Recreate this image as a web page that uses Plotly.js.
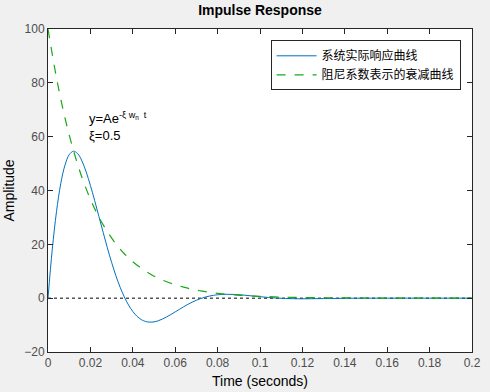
<!DOCTYPE html>
<html><head><meta charset="utf-8">
<script src="https://cdn.plot.ly/plotly-3.0.1.min.js"></script>
<style>html,body{margin:0;padding:0;background:#f0f0f0;}#c{width:490px;height:392px;}</style>
</head><body><div id="c"></div>
<script>
// actual response curve
const tResp = [0,0.002,0.004,0.006,0.008,0.010,0.012,0.014,0.016,0.018,0.020,0.022,0.024,0.026,0.028,0.030,0.032,0.034,0.036,0.038,0.040,0.042,0.044,0.046,0.048,0.050,0.052,0.054,0.056,0.058,0.060,0.062,0.064,0.066,0.068,0.070,0.072,0.074,0.076,0.078,0.080,0.084,0.088,0.092,0.096,0.100,0.104,0.108,0.112,0.116,0.120,0.13,0.14,0.15,0.16,0.18,0.2];
const yResp = [0,18.0,32.1,42.5,49.4,53.3,54.6,53.7,51.0,46.9,41.9,36.3,30.4,24.5,18.7,13.3,8.4,4.1,0.46,-2.56,-4.95,-6.74,-7.96,-8.66,-8.90,-8.80,-8.39,-7.76,-6.95,-6.05,-5.10,-4.14,-3.19,-2.30,-1.49,-0.77,-0.15,0.36,0.75,1.05,1.26,1.44,1.38,1.16,0.85,0.55,0.26,0.04,-0.12,-0.20,-0.23,-0.15,-0.05,0.0,0.0,0.0,0.0];
// damping envelope
const tEnv = [0,0.004,0.008,0.012,0.016,0.020,0.024,0.028,0.032,0.036,0.040,0.044,0.048,0.052,0.056,0.060,0.064,0.068,0.072,0.076,0.080,0.084,0.088,0.092,0.096,0.100,0.11,0.12,0.13,0.14,0.15,0.16,0.18,0.2];
const yEnv = [100,81.9,67.0,54.9,44.9,36.8,30.1,24.7,20.2,16.5,13.5,11.1,9.1,7.4,6.1,5.0,4.1,3.3,2.7,2.2,1.8,1.5,1.2,1.0,0.8,0.7,0.4,0.25,0.15,0.09,0.06,0.03,0.01,0];
const tZero = [0,0.2];
const yZero = [0,0];
const names = ['系统实际响应曲线','阻尼系数表示的衰减曲线'];
const xTicks = [0,0.02,0.04,0.06,0.08,0.1,0.12,0.14,0.16,0.18,0.2];
const xTickText = ['0','0.02','0.04','0.06','0.08','0.1','0.12','0.14','0.16','0.18','0.2'];
const yTicks = [-20,0,20,40,60,80,100];

const axisCommon = {showgrid:false, zeroline:false, showline:true, mirror:'ticks', ticks:'inside', ticklen:5, tickwidth:1,
  linecolor:'#262626', tickcolor:'#262626', linewidth:1, tickfont:{family:'Arial, Liberation Sans', size:12, color:'#4d4d4d'}};

const data = [
  {x:tZero, y:yZero, mode:'lines', line:{color:'#000', width:1, dash:'dot'}, showlegend:false, hoverinfo:'skip'},
  {x:tResp, y:yResp, mode:'lines', name:names[0], line:{color:'#0072bd', width:1, shape:'spline'}},
  {x:tEnv, y:yEnv, mode:'lines', name:names[1], line:{color:'#1aa81a', width:1.2, dash:'dash', shape:'spline'}}
];
const layout = {
  width:490, height:392,
  paper_bgcolor:'#f0f0f0', plot_bgcolor:'#ffffff',
  margin:{l:48, r:18, t:29, b:40},
  title:{text:'<b>Impulse Response</b>', font:{family:'Arial, Liberation Sans', size:14, color:'#000'}, x:0.5, xref:'paper', y:0.988, yanchor:'top'},
  xaxis:Object.assign({}, axisCommon, {range:[0,0.2], tickvals:xTicks, ticktext:xTickText,
    title:{text:'Time (seconds)', font:{family:'Arial, Liberation Sans', size:14, color:'#000'}, standoff:6}}),
  yaxis:Object.assign({}, axisCommon, {range:[-20,100], tickvals:yTicks,
    title:{text:'Amplitude', font:{family:'Arial, Liberation Sans', size:14, color:'#000'}, standoff:6}}),
  legend:{x:0.525, y:0.965, xanchor:'left', yanchor:'top', bgcolor:'#ffffff', bordercolor:'#262626', borderwidth:1,
    font:{family:'Noto Sans CJK SC', size:12, color:'#000'}, tracegroupgap:0, itemwidth:40},
  annotations:[
    {x:0.0182, y:66.9, xref:'x', yref:'y', xanchor:'left', yanchor:'middle', showarrow:false,
     text:'y=Ae<sup>-ξ w<sub>n</sub>  t</sup>', font:{family:'Arial, Liberation Sans', size:13, color:'#000'}},
    {x:0.0182, y:60.6, xref:'x', yref:'y', xanchor:'left', yanchor:'middle', showarrow:false,
     text:'ξ=0.5', font:{family:'Arial, Liberation Sans', size:13, color:'#000'}}
  ]
};
Plotly.newPlot('c', data, layout, {displayModeBar:false, staticPlot:true});
</script></body></html>
